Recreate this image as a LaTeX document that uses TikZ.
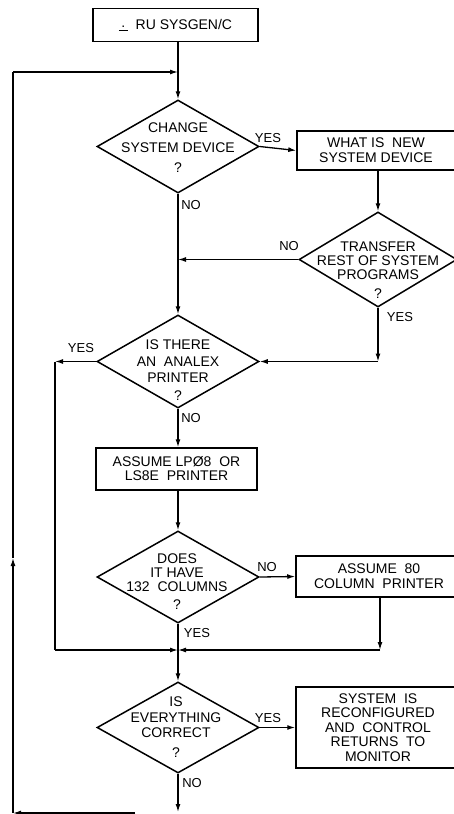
\documentclass[tikz,border=0pt]{standalone}
\usepackage{fontspec}
\setmainfont{Liberation Sans}
\usetikzlibrary{shapes.geometric,arrows.meta}
\begin{document}
\begin{tikzpicture}[x=1pt,y=-1pt,
  every node/.style={font=\fontsize{14}{14}\selectfont, inner sep=0pt},
  decision/.style={diamond, draw, line width=1.5pt, minimum width=162pt, minimum height=93pt, inner sep=0pt},
  procbox/.style={rectangle, draw, line width=1.5pt, align=center},
  caption/.style={align=center},
  tag/.style={font=\fontsize{13}{13}\selectfont},
  flow/.style={line width=1.3pt},
  arr/.style={flow, -{Latex[length=8pt,width=5pt]}}
]
\useasboundingbox (0,0) rectangle (454,814);

% start box
\node[procbox, minimum width=165pt, minimum height=33pt] (start) at (175.5,25)
  {\underline{\makebox[9pt]{\raisebox{2pt}{.}}}\ \ RU SYSGEN/C};

% decisions and process boxes
\node[decision] (d1) at (178,146.5) {};
\node[caption] (t1) at (178,148) {CHANGE\\[6pt]SYSTEM DEVICE\\[6pt]?};
\node[procbox, minimum width=158pt, minimum height=39pt] (b2) at (376,150.5) {WHAT IS \ NEW\\[1pt]SYSTEM DEVICE};

\node[decision, minimum width=158pt, minimum height=95pt] (d2) at (378,259.5) {};
\node[caption] (t2) at (378,270) {TRANSFER\\REST OF SYSTEM\\PROGRAMS\\[5pt]?};

\node[decision] (d3) at (178,361.5) {};
\node[caption] (t3) at (178,370) {IS THERE\\[2.5pt]AN \ ANALEX\\[2pt]PRINTER\\[4pt]?};

\node[procbox, minimum width=161pt, minimum height=42pt] (b3) at (176.5,469) {ASSUME LPØ8 \ OR\\LS8E \ PRINTER};

\node[decision, minimum height=92pt] (d4) at (178,577) {};
\node[caption] (t4) at (177,582) {DOES\\IT HAVE\\132 \ COLUMNS\\[4pt]?};
\node[procbox, minimum width=166pt, minimum height=41pt] (b4) at (379,576.5) {ASSUME \ 80\\[1pt]COLUMN \ PRINTER};

\node[decision, minimum height=91pt] (d5) at (178,727.5) {};
\node[caption] (t5) at (176,727.5) {IS\\[1.5pt]EVERYTHING\\[1.5pt]CORRECT\\[6pt]?};
\node[procbox, minimum width=164pt, minimum height=81pt] (b5) at (378,727.5)
  {SYSTEM \ IS\\[0.5pt]RECONFIGURED\\[0.5pt]AND \ CONTROL\\[0.5pt]RETURNS \ TO\\[0.5pt]MONITOR};

% branch labels
\node[tag] (y1) at (268,138) {YES};
\node[tag] (n1) at (191,205) {NO};
\node[tag] (n2) at (289,246) {NO};
\node[tag] (y2) at (400,317) {YES};
\node[tag] (y3) at (81,348) {YES};
\node[tag] (n3) at (191,418) {NO};
\node[tag] (n4) at (267,567) {NO};
\node[tag] (y4) at (197,633) {YES};
\node[tag] (y5) at (268,718) {YES};
\node[tag] (n5) at (192,783) {NO};

% routing points
\coordinate (top) at (178,72);
\coordinate (l3) at (55,361.5);
\coordinate (l4) at (55,650);
\coordinate (j4) at (178,650);
\coordinate (r4) at (380,650);
\coordinate (bend) at (178,812);
\coordinate (bstart) at (135,813);
\coordinate (lb) at (13,813);
\coordinate (lm) at (13,558);
\coordinate (lt) at (13,72);

% connectors
\draw[arr] (start.south -| d1.north) -- (d1.north);
\draw[arr] (lt) -- (top);
\draw[arr] (d1.east) -- (b2.west);
\draw[arr] (b2.south -| d2.north) -- (d2.north);
\draw[arr] (d2.west) -- (d2.west -| d1.south);
\draw[arr] (d1.south) -- (d3.north);
\draw[arr] (d2.south) -- (d2.south |- d3.east);
\draw[arr] (d2.south |- d3.east) -- (d3.east);
\draw[arr] (d3.west) -- (l3);
\draw[flow] (l3) -- (l4);
\draw[arr] (l4) -- (j4);
\draw[arr] (d3.south) -- (b3.north -| d3.south);
\draw[arr] (b3.south -| d4.north) -- (d4.north);
\draw[arr] (d4.east) -- (b4.west);
\draw[arr] (b4.south -| r4) -- (r4);
\draw[arr] (r4) -- (j4);
\draw[arr] (d4.south) -- (d5.north);
\draw[arr] (d5.east) -- (b5.west);
\draw[arr] (d5.south) -- (bend);
\draw[arr] (bstart) -- (lb);
\draw[arr] (lb) -- (lm);
\draw[flow] (lm) -- (lt);
\end{tikzpicture}
\end{document}
